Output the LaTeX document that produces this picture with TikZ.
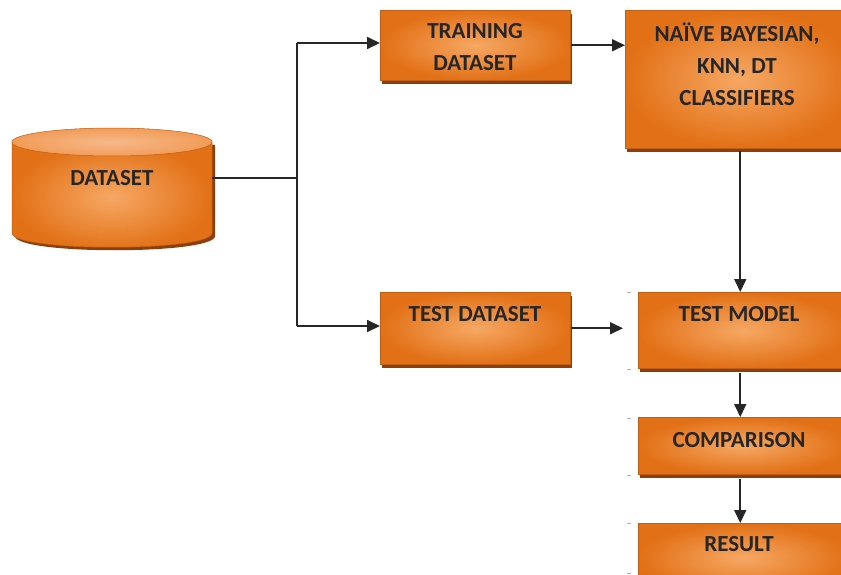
\documentclass[tikz,border=0pt]{standalone}
\usepackage{fontspec}
\setmainfont{Carlito}
\usetikzlibrary{arrows.meta,shadows}
\definecolor{orgE}{RGB}{226,112,22}
\definecolor{orgC}{RGB}{246,168,100}
\definecolor{orgT}{RGB}{242,156,88}
\definecolor{shd}{RGB}{140,62,12}
\begin{document}
\begin{tikzpicture}[x=1pt,y=-1pt,
  box/.style={draw=orgE!85!black, line width=0.5pt, inner sep=0pt, anchor=north west,
    shading=radial, inner color=orgC, outer color=orgE,
    drop shadow={shadow xshift=2pt, shadow yshift=-4pt, fill=shd, opacity=1}},
  txt/.style={font=\fontsize{23}{32}\selectfont\bfseries, text=black!85, align=center, inner sep=0pt},
  arr/.style={-{Triangle[length=13pt,width=12pt]}, line width=1.7pt, draw=black!85},
  ln/.style={line width=1.7pt, draw=black!85},
  tickm/.style={draw=gray!60, line width=1pt}]
\useasboundingbox (0,0) rectangle (841,575);

% cylinder
\path[fill=shd] (15,145) -- (15,236) .. controls (15,255) and (215,255) .. (215,236) -- (215,145) -- cycle;
\path[shading=radial, inner color=orgC, outer color=orgE, draw=orgE!85!black, line width=0.5pt]
  (12,142) -- (12,233) .. controls (12,252) and (212,252) .. (212,233) -- (212,142) -- cycle;
\path[shading=radial, inner color=orgT!70!white, outer color=orgT, draw=orgE!85!black, line width=0.5pt]
  (112,142) ellipse [x radius=100, y radius=14];
\node[txt, minimum width=200pt] (ds) at (112,178) {DATASET};

% boxes
\node[box, minimum width=190pt, minimum height=70pt] (tr) at (380,10) {};
\node[box, minimum width=230pt, minimum height=138pt] (cl) at (625,10) {};
\node[box, minimum width=190pt, minimum height=72pt] (td) at (380,292) {};
\node[box, minimum width=210pt, minimum height=76pt] (tm) at (638,292) {};
\node[box, minimum width=210pt, minimum height=57pt] (cm) at (638,417) {};
\node[box, minimum width=210pt, minimum height=70pt] (rs) at (638,523) {};

% texts
\node[txt] (trt) at (475,47) {TRAINING\\DATASET};
\node[txt] (clt) at (737,64) {NAÏVE BAYESIAN,\\KNN, DT\\CLASSIFIERS};
\node[txt] (tdt) at (475,314) {TEST DATASET};
\node[txt] (tmt) at (739,314) {TEST MODEL};
\node[txt] (cmt) at (739,440) {COMPARISON};
\node[txt] (rst) at (739,544) {RESULT};

% connectors
\coordinate (j) at (297,178);
\coordinate (jt) at (297,43);
\coordinate (jb) at (297,326);
\draw[ln] (ds.east) -- (j);
\draw[ln] (jt) -- (jb);
\draw[arr] (jt) -- (tr.west |- jt);
\draw[arr] (jb) -- (td.west |- jb);
\draw[arr] (tr.east) -- (cl.west |- tr.east);
\draw[arr] ([yshift=-3pt]cl.south) -- (cl.south |- tm.north);
\draw[arr] (td.east) -- ([xshift=-15pt]tm.west |- td.east);
\draw[arr] ([yshift=-4pt]tm.south -| cl.south) -- (cl.south |- cm.north);
\draw[arr] ([yshift=-4pt]cm.south -| cl.south) -- (cl.south |- rs.north);

% small tick marks
\coordinate (k1) at (627,292); \coordinate (k2) at (627,369);
\coordinate (k3) at (627,418); \coordinate (k4) at (627,475);
\coordinate (k5) at (627,523); \coordinate (k6) at (627,573);
\foreach \k in {k1,k2,k3,k4,k5,k6} \draw[tickm] (\k) -- ++(4,0);
\end{tikzpicture}
\end{document}
